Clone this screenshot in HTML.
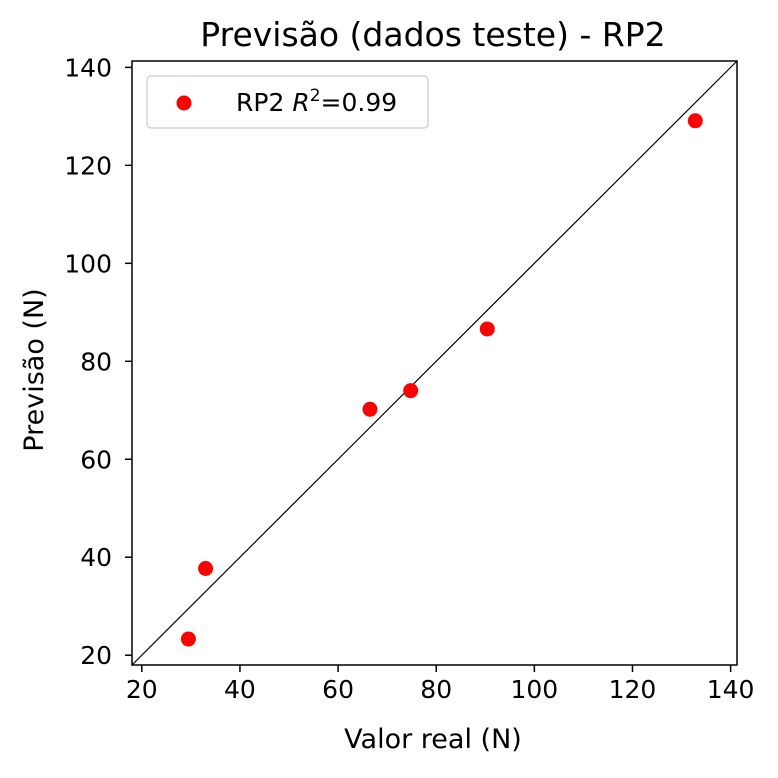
<!DOCTYPE html>
<html><head><meta charset="utf-8"><style>
body{margin:0;background:#fff}
svg text{font-family:"DejaVu Sans","Liberation Sans",sans-serif;fill:#000}
</style></head><body>
<svg id="chart" width="778" height="773">
<text x="433" y="46" font-size="33" text-anchor="middle">Previsão (dados teste) - RP2</text>
<text x="433" y="748" font-size="27" text-anchor="middle">Valor real (N)</text>
<text x="0" y="0" font-size="27" text-anchor="middle" transform="translate(43,370) rotate(-90)">Previsão (N)</text>
<g id="plot"></g>
</svg>
<script>
const xVals=[29.5,33,66.5,74.8,90.4,132.8];
const yVals=[23.3,37.7,70.2,74,86.6,129.1];
const xTicks=[20,40,60,80,100,120,140];
const yTicks=[20,40,60,80,100,120,140];
const lim=[18,141.3];
const L=132,R=737,T=61,B=665;
const sx=v=>L+(v-lim[0])/(lim[1]-lim[0])*(R-L);
const sy=v=>B-(v-lim[0])/(lim[1]-lim[0])*(B-T);
const g=document.getElementById('plot');const NS='http://www.w3.org/2000/svg';
function mk(t,a){const e=document.createElementNS(NS,t);for(const k in a)e.setAttribute(k,a[k]);g.appendChild(e);return e;}
let d=mk('line',{x1:sx(lim[0]),y1:sy(lim[0]),x2:sx(lim[1]),y2:sy(lim[1]),stroke:'#000','stroke-width':1.2});


xVals.forEach((x,i)=>{const c=mk('circle',{cx:sx(x),cy:sy(yVals[i]),r:7.5,fill:'#ff0000'});

});
xTicks.forEach(v=>{const l=mk('line',{x1:sx(v),x2:sx(v),y1:B,y2:B+7,stroke:'#000','stroke-width':1.5});


const t=mk('text',{x:sx(v),y:B+33,'font-size':25,'text-anchor':'middle'});t.textContent=v;

});
yTicks.forEach(v=>{const l=mk('line',{x1:L-7,x2:L,y1:sy(v),y2:sy(v),stroke:'#000','stroke-width':1.5});


const t=mk('text',{x:L-20,y:sy(v)+9,'font-size':25,'text-anchor':'end'});t.textContent=v;

});
const f=mk('rect',{x:L,y:T,width:R-L,height:B-T,fill:'none',stroke:'#000','stroke-width':1.5});


const lg=mk('rect',{x:147,y:76,width:281,height:52,rx:4,fill:'#fff',stroke:'#ccc','stroke-width':1.2});


const lc=mk('circle',{cx:184,cy:103,r:7.5,fill:'#ff0000'});


const lt=mk('text',{x:236,y:111,'font-size':25});
lt.innerHTML='RP2 <tspan font-style="italic">R</tspan><tspan font-size="17" dy="-10">2</tspan><tspan dy="10">=0.99</tspan>';


</script>
</body></html>
